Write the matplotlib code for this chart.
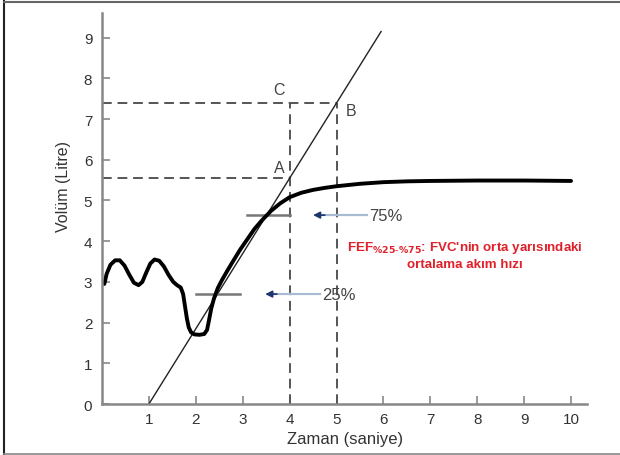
import matplotlib
matplotlib.use("Agg")
import matplotlib.pyplot as plt
from matplotlib.lines import Line2D

plt.rcParams['font.family'] = ['Liberation Sans', 'DejaVu Sans']

# Volume-time curve (seconds, litres)
curve_t = [0.05, 0.10, 0.18, 0.28, 0.38, 0.48, 0.58, 0.68, 0.78, 0.86, 0.94, 1.03,
           1.12, 1.22, 1.32, 1.42, 1.52, 1.60, 1.68, 1.73, 1.77, 1.81, 1.85, 1.90,
           1.97, 2.08, 2.18, 2.24, 2.28, 2.33, 2.39, 2.47, 2.56, 2.66, 2.80, 2.95,
           3.10, 3.25, 3.40, 3.60, 3.80, 4.00, 4.25, 4.50, 4.75, 5.00, 5.50, 6.00,
           6.50, 7.00, 8.00, 9.00, 10.00]
curve_v = [2.95, 3.20, 3.42, 3.53, 3.53, 3.40, 3.18, 2.98, 2.92, 3.00, 3.22, 3.45,
           3.55, 3.52, 3.38, 3.17, 3.00, 2.92, 2.86, 2.70, 2.40, 2.10, 1.88, 1.76,
           1.71, 1.70, 1.72, 1.82, 2.05, 2.35, 2.60, 2.85, 3.05, 3.25, 3.52, 3.80,
           4.05, 4.30, 4.50, 4.74, 4.93, 5.08, 5.19, 5.26, 5.31, 5.35, 5.41, 5.45,
           5.47, 5.48, 5.49, 5.49, 5.48]

# Tangent (FEF) line
tangent_t = [1.0, 5.95]
tangent_v = [0.0, 9.15]

# Reference points
point_A = (4.0, 5.55)
point_B = (5.0, 7.4)
point_C = (4.0, 7.4)

# 25% / 75% markers
marker_levels = [2.70, 4.64]
marker_spans = [(2.0, 2.95), (3.1, 4.0)]
marker_labels = ["25%", "75%"]
arrow_heads = [3.48, 4.50]
arrow_tails = [4.65, 5.65]

xticks = list(range(1, 11))
yticks = list(range(0, 10))

fig = plt.figure(figsize=(6.2, 4.56), dpi=100)
ax = fig.add_axes([0.1645, 0.1118, 0.783, 0.857])
ax.set_xlim(0, 10.35)
ax.set_ylim(0, 9.6)

dash_kw = dict(color='#555555', lw=1.4, dashes=(5, 3))
# dashed guide lines
ax.plot([0, point_B[0]], [point_B[1], point_B[1]], **dash_kw)
ax.plot([0, point_A[0]], [point_A[1], point_A[1]], **dash_kw)
ax.plot([point_C[0], point_C[0]], [0, point_C[1]], **dash_kw)
ax.plot([point_B[0], point_B[0]], [0, point_B[1]], **dash_kw)

# tangent line
ax.plot(tangent_t, tangent_v, color='#222222', lw=1.0)

# marker bars
for lvl, (a, b) in zip(marker_levels, marker_spans):
    ax.plot([a, b], [lvl, lvl], color='#777777', lw=1.8)

# curve
ax.plot(curve_t, curve_v, color='black', lw=2.8, solid_capstyle='round',
        solid_joinstyle='round')

# arrows and labels
for lvl, h, t, lab in zip(marker_levels, arrow_heads, arrow_tails, marker_labels):
    ax.plot([h + 0.1, t], [lvl, lvl], color='#a9bad3', lw=1.6)
    ax.annotate('', xy=(h, lvl), xytext=(h + 0.25, lvl),
                arrowprops=dict(arrowstyle='-|>', color='#1f3570', lw=1.2,
                                mutation_scale=10, shrinkA=0, shrinkB=0))
    ax.text(t + 0.05, lvl, lab, fontsize=12, color='#444444', va='center', ha='left')

ax.text(3.78, 7.72, 'C', fontsize=11.5, color='#444444', ha='center', va='center')
ax.text(5.3, 7.2, 'B', fontsize=11.5, color='#444444', ha='center', va='center')
ax.text(3.78, 5.82, 'A', fontsize=11.5, color='#444444', ha='center', va='center')

ax.text(7.74, 3.67,
        "FEF$_{\\mathbf{\\%25\\text{-}\\%75}}$: FVC'nin orta yarısındaki\nortalama akım hızı",
        color='#e0202a', fontsize=9.6, fontweight='bold', ha='center', va='center',
        multialignment='center', linespacing=1.4)

for s in ['top', 'right']:
    ax.spines[s].set_visible(False)
for s in ['left', 'bottom']:
    ax.spines[s].set_color('#888888')
    ax.spines[s].set_linewidth(1.8)

ax.set_xticks(xticks)
ax.set_yticks(yticks)
ax.tick_params(direction='in', length=6, width=1.2, color='#888888',
               labelsize=11, labelcolor='#333333')
ax.tick_params(axis='x', pad=6)
ax.tick_params(axis='y', pad=7)

ax.set_xlabel('Zaman (saniye)', fontsize=12, color='#333333', labelpad=3)
ax.set_ylabel('Volüm (Litre)', fontsize=11.5, color='#333333')
ax.yaxis.set_label_coords(-0.064, 0.56)

# figure frame
fig.add_artist(Line2D([4/620, 4/620], [0, 1 - 2/456], color='#222222', lw=1.5,
                      transform=fig.transFigure))
fig.add_artist(Line2D([4/620, 1], [1 - 3/456, 1 - 3/456], color='#666666', lw=1.5,
                      transform=fig.transFigure))
fig.add_artist(Line2D([4/620, 1], [1.5/456, 1.5/456], color='#888888', lw=1.2,
                      transform=fig.transFigure))

fig.savefig('out.png', dpi=100)
